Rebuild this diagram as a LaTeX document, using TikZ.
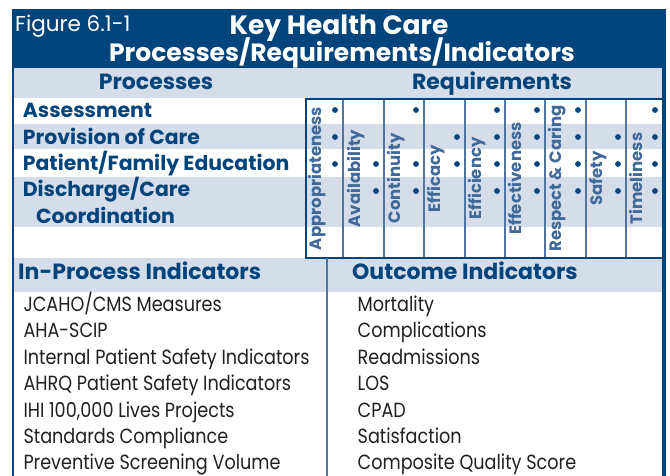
\documentclass[tikz,border=0pt]{standalone}
\usepackage{fontspec}
\setmainfont{Poppins}
\newfontfamily\headfont{Poppins}
\newfontfamily\bodyfont{Poppins}[FakeStretch=0.86]
\usepackage{tikz}
\usetikzlibrary{positioning}
\definecolor{navy}{RGB}{0,68,124}
\definecolor{lightband}{RGB}{214,221,234}
\definecolor{midblue}{RGB}{64,104,152}
\definecolor{gridline}{RGB}{80,118,160}
\definecolor{ink}{RGB}{35,31,32}

\begin{document}
\begin{tikzpicture}[x=1pt,y=-1pt]
\tikzstyle{titletext}=[anchor=base,inner sep=0,text=white,font=\headfont\bfseries\fontsize{25}{25}\selectfont]
\tikzstyle{colhead}=[anchor=base,inner sep=0,text=navy,font=\headfont\bfseries\fontsize{22}{22}\selectfont]
\tikzstyle{proc}=[anchor=base west,inner sep=0,text=navy,font=\headfont\bfseries\fontsize{20.4}{20.4}\selectfont]
\tikzstyle{req}=[rotate=90,anchor=base,inner sep=0,text=midblue,font=\headfont\bfseries\fontsize{16.5}{16.5}\selectfont]
\tikzstyle{indhead}=[anchor=base west,inner sep=0,text=navy,font=\headfont\bfseries\fontsize{22}{22}\selectfont]
\tikzstyle{item}=[anchor=base west,inner sep=0,text=ink,font=\bodyfont\fontsize{20.5}{20.5}\selectfont]
\useasboundingbox (0,0) rectangle (670,476);

% bands
\fill[navy] (12,9) rectangle (666,68);
\fill[lightband] (12,68) rectangle (666,98);
\fill[lightband] (13,124) rectangle (664,149);
\fill[lightband] (13,177) rectangle (664,227);
\fill[lightband] (13,258) rectangle (664,292);

% title
\node (fig) [anchor=base west,inner sep=0,text=white,font=\headfont\fontsize{21.5}{21.5}\selectfont] at (15,31.7) {Figure 6.1-1};
\node (title1) [titletext,font=\headfont\bfseries\fontsize{26.5}{26.5}\selectfont] at (339,34.3) {Key Health Care};
\node (title2) [titletext] at (342,61.7) {Processes/Requirements/Indicators};
\node (hproc) [colhead] at (156,90) {Processes};
\node (hreq) [colhead] at (492,90) {Requirements};

% processes
\node (assess) [proc] at (22.7,117.7) {Assessment};
\node (provis) [proc] at (22.7,144.3) {Provision of Care};
\node (educ) [proc] at (22.7,171) {Patient/Family Education};
\node (disch) [proc] at (22.7,196.7) {Discharge/Care};
\node (coord) [proc] at (36,223) {Coordination};

% requirement grid
\foreach \x in {343,384,424,465,505,545,586,626}
  \draw[gridline,line width=1.2] (\x,99) -- (\x,258);
\draw[navy,line width=1.5] (306,99) rectangle (663,258);
\foreach \x/\name/\txt in {321/appr/Appropriateness, 360/avail/Availability, 400/cont/Continuity,
    440/efca/Efficacy, 481/efci/Efficiency, 521/efct/Effectiveness, 561/resp/Respect \& Caring,
    602/safe/Safety, 642/time/Timeliness}
  \node (\name) [req] at (\x,178.5) {\txt};
\foreach \x/\y in {335/110, 335/137, 335/164,
    376/164, 376/191,
    416/110, 416/164, 416/191,
    457/137, 457/164,
    497/110, 497/137, 497/164, 497/191,
    537/110, 537/137, 537/164, 537/191,
    578/110, 578/137, 578/164, 578/191,
    618/137, 618/164, 618/191,
    655/110, 655/137, 655/164, 655/191}
  \fill[navy] (\x,\y) circle (2.9);

% indicators
\draw[gridline,line width=1.5] (327,258) -- (327,476);
\node (inproc) [indhead] at (18,279.3) {In-Process Indicators};
\node (outc) [indhead] at (352,279.3) {Outcome Indicators};
\foreach \y/\txt in {311.4/{JCAHO/CMS Measures}, 337.8/AHA-SCIP, 364.2/Internal Patient Safety Indicators,
    390.6/AHRQ Patient Safety Indicators, 417/{IHI 100,000 Lives Projects}, 443.4/Standards Compliance,
    469.8/Preventive Screening Volume}
  \node [item] at (23.3,\y) {\txt};
\foreach \y/\txt in {311.4/Mortality, 337.8/Complications, 364.2/Readmissions, 390.6/LOS,
    417/CPAD, 443.4/Satisfaction, 469.8/Composite Quality Score}
  \node [item] at (357.5,\y) {\txt};

% frame
\draw[navy,line width=2.5] (13,9) -- (13,476);
\draw[navy,line width=4] (664,9) -- (664,476);
\end{tikzpicture}
\end{document}
